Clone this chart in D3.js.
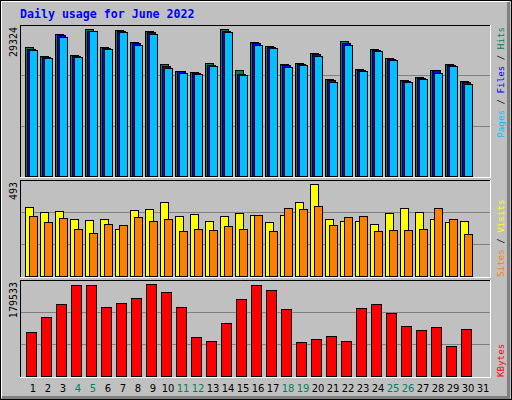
<!DOCTYPE html>
<html><head><meta charset="utf-8">
<script src="https://cdn.jsdelivr.net/npm/d3@7"></script>
<style>body{margin:0;background:#fff}</style></head>
<body><svg id="c" width="512" height="400"></svg>
<script>
const days = d3.range(1, 32);
const weekend = [4,5,11,12,18,19,25,26];
const hits  = [25735,23940,28329,24140,29324,25735,29127,26733,28928,22344,20948,20748,22544,29324,21147,26733,25935,22344,22544,24539,19352,26933,21347,25337,23541,19152,19751,21147,22344,18953];
const files = [25337,23741,28130,23940,28928,25536,28928,26534,28728,21945,20948,20549,22145,28928,20349,26534,25735,22145,22344,24339,19152,26534,21147,25137,23342,18953,19551,21147,22145,18753];
const pages = [25137,23541,27731,23741,28928,25337,28728,26135,28329,21546,20549,20349,21945,28728,20150,26135,25536,21746,22145,23940,18753,26135,20948,24938,23142,18753,19352,20549,21945,18354];
const visits = [369,342,348,305,299,305,251,353,359,396,321,332,294,321,337,326,289,326,396,493,305,294,294,278,337,364,342,305,289,294];
const sites  = [321,289,310,251,230,278,273,315,294,305,240,251,246,267,251,326,240,364,359,375,273,315,321,240,246,246,251,364,305,224];
const kbytes = [85250,114700,140250,177600,177600,134350,142200,152050,179533,163800,134350,75400,67550,102900,150050,177600,167750,130450,65600,71500,77400,67550,132400,140250,122550,97050,89200,95050,57750,91150];
const maxLabels = ["29324","493","179533"];
const title = "Daily usage for June 2022";

const svg = d3.select("#c").attr("shape-rendering","crispEdges");
const mono = "DejaVu Sans Mono, monospace";
// background & bevel
svg.append("rect").attr("x",0.5).attr("y",0.5).attr("width",511).attr("height",399).attr("fill","#c0c0c0").attr("stroke","#000");
svg.append("path").attr("d","M508.5,2V397.5H2").attr("stroke","#808080").attr("stroke-width",3).attr("fill","none");
svg.append("path").attr("d","M1.5,397V1.5H509").attr("stroke","#fff").attr("fill","none");

svg.append("text").attr("x",20).attr("y",18).attr("font-family",mono).attr("font-weight","bold")
  .attr("font-size",11.6).attr("fill","#0000ff").text(title);

const x = d3.scaleLinear().domain([1,31]).range([25,475]);
const panels = [
  {top:25,bottom:176,ymax:29324,ytop:29},
  {top:180,bottom:276,ymax:493,ytop:184},
  {top:280,bottom:376,ymax:179533,ytop:284}
];
panels.forEach((p,i)=>{
  svg.append("path").attr("d",`M20.5,${p.bottom+1}V${p.top+0.5}H490.5`).attr("stroke","#000").attr("fill","none");
  svg.append("path").attr("d",`M490.5,${p.top}V${p.bottom+1.5}H20`).attr("stroke","#fff").attr("fill","none");
  const g = d3.scaleLinear().domain([0,3]).range([p.bottom,p.top]);
  [1,2].forEach(k=>svg.append("line").attr("x1",21).attr("x2",490).attr("y1",Math.round(g(k))+0.5).attr("y2",Math.round(g(k))+0.5).attr("stroke","#808080"));
  p.y = d3.scaleLinear().domain([0,p.ymax]).range([p.bottom,p.ytop]);
  svg.append("text").attr("transform",`translate(17,${p.top+2}) rotate(-90)`).attr("text-anchor","end")
    .attr("font-family",mono).attr("font-size",10).attr("fill","#000").text(maxLabels[i]);
});

function bars(data,p,dx,w,color){
  svg.append("g").selectAll("rect").data(data).join("rect")
    .attr("x",(d,i)=>x(i+1)+dx+0.5).attr("y",d=>Math.round(p.y(d))+0.5)
    .attr("width",w).attr("height",d=>p.bottom-Math.round(p.y(d)))
    .attr("fill",color).attr("stroke","#000");
}
bars(hits,panels[0],0,8,"#00805c");
bars(files,panels[0],2,8,"#0000ff");
bars(pages,panels[0],4,8,"#00c0ff");
bars(visits,panels[1],0,8,"#ffff00");
bars(sites,panels[1],4,8,"#ff8000");
bars(kbytes,panels[2],1,10,"#ff0000");

function sideLabel(y,anchor,parts){
  const t = svg.append("text").attr("transform",`translate(504,${y}) rotate(-90)`).attr("text-anchor",anchor)
    .attr("font-family",mono).attr("font-size",9.2);
  parts.forEach(([s,c])=>t.append("tspan").attr("fill",c).text(s));
}
sideLabel(27,"end",[["Pages","#00c0ff"],[" / ","#000"],["Files","#0000ff"],[" / ","#000"],["Hits","#00805c"]]);
sideLabel(277,"start",[["Sites","#ff8000"],[" / ","#000"],["Visits","#ffff00"]]);
sideLabel(377,"start",[["KBytes","#ff0000"]]);

svg.append("g").selectAll("text").data(days).join("text")
  .attr("x",d=>x(d)+8).attr("y",392).attr("text-anchor","middle")
  .attr("font-family","DejaVu Sans, sans-serif").attr("font-size",10)
  .attr("fill",d=>weekend.includes(d)?"#00805c":"#000").text(d=>d);
</script></body></html>
